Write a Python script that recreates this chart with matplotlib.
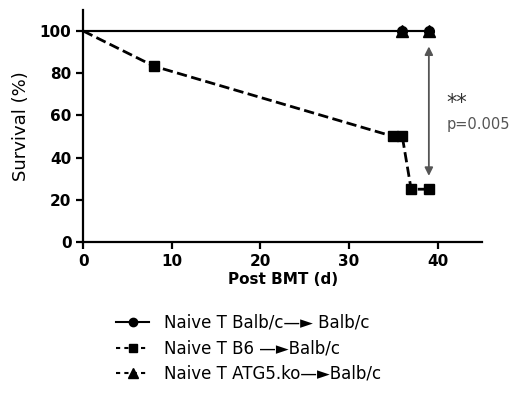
import matplotlib
matplotlib.use("Agg")
import matplotlib.pyplot as plt

# survival data (days, %)
balb_days = [0, 36, 39]
balb_surv = [100, 100, 100]
b6_days = [0, 8, 35, 36, 37, 39]
b6_surv = [100, 83.3, 50, 50, 25, 25]
atg5_days = [0, 36, 39]
atg5_surv = [100, 100, 100]

labels = ["Naive T Balb/c\u2014\u25ba Balb/c",
          "Naive T B6 \u2014\u25baBalb/c",
          "Naive T ATG5.ko\u2014\u25baBalb/c"]

fig = plt.figure(figsize=(5.2, 3.96), dpi=100)
ax = fig.add_axes([0.16, 0.389, 0.767, 0.586])

ax.plot(balb_days, balb_surv, '-', color='black', lw=1.5,
        marker='o', ms=7, markevery=[1, 2], label=labels[0])
ax.plot(b6_days, b6_surv, '--', color='black', lw=2,
        marker='s', ms=7, markevery=list(range(1, 6)), label=labels[1])
ax.plot(atg5_days, atg5_surv, '-', color='black', lw=1.5,
        marker='^', ms=8, markevery=[1, 2], label=labels[2])

# significance arrow
ax.annotate('', xy=(39, 30), xytext=(39, 94),
            arrowprops=dict(arrowstyle='<|-|>', color='#555555', lw=1.3,
                            mutation_scale=12))
ax.text(41.0, 66, '**', fontsize=15, color='#333333', ha='left', va='center')
ax.text(41.0, 55.5, 'p=0.005', fontsize=10.5, color='#555555', ha='left', va='center')

ax.set_xlim(0, 45)
ax.set_ylim(0, 110)
ax.set_xticks([0, 10, 20, 30, 40])
ax.set_yticks([0, 20, 40, 60, 80, 100])
for lab in ax.get_xticklabels() + ax.get_yticklabels():
    lab.set_fontweight('bold')
    lab.set_fontsize(11)
ax.spines['top'].set_visible(False)
ax.spines['right'].set_visible(False)
ax.spines['left'].set_linewidth(1.6)
ax.spines['bottom'].set_linewidth(1.6)
ax.tick_params(width=1.6, length=5)
ax.set_xlabel('Post BMT (d)', fontsize=11, fontweight='bold', labelpad=2)
ax.set_ylabel('Survival (%)', fontsize=13, labelpad=7)

h1 = plt.Line2D([], [], color='black', lw=1.5, marker='o', ms=6)
h2 = plt.Line2D([], [], color='black', lw=1.5, ls=(0, (2, 2)), marker='s', ms=6)
h3 = plt.Line2D([], [], color='black', lw=1.5, ls=(0, (2, 2)), marker='^', ms=7)
fig.legend([h1, h2, h3], labels, loc='upper left', bbox_to_anchor=(0.21, 0.224),
           frameon=False, fontsize=12, handlelength=2, handletextpad=0.9,
           labelspacing=0.45, borderaxespad=0)

fig.savefig('out.png', dpi=100)
